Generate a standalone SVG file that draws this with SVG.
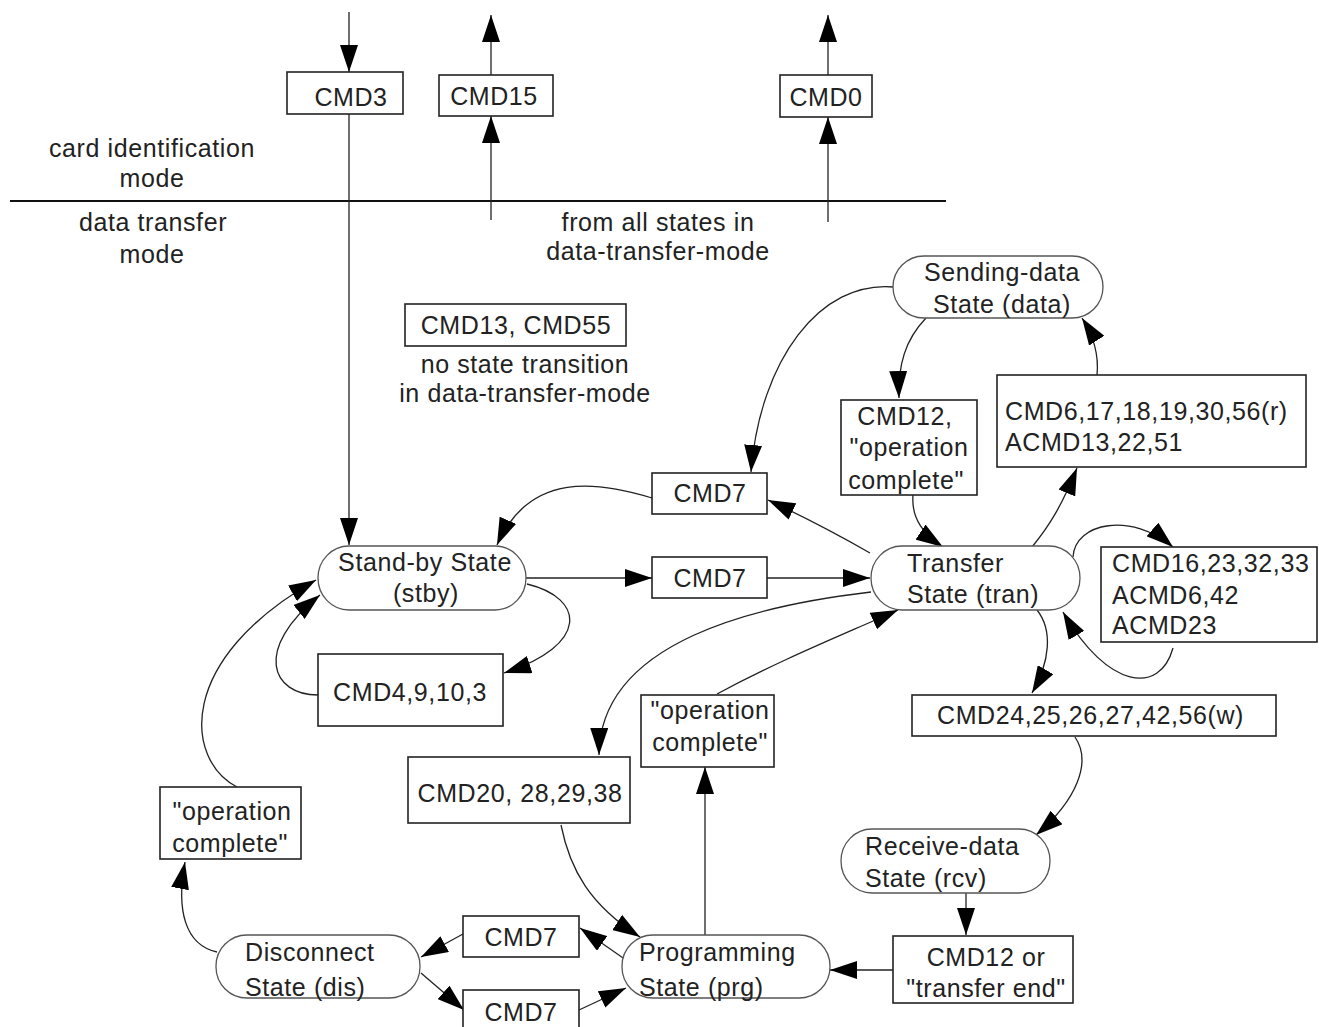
<svg xmlns="http://www.w3.org/2000/svg" width="1319" height="1027" viewBox="0 0 1319 1027">
<style>
text{font-family:"Liberation Sans",Arial,sans-serif;font-size:25px;fill:#222;letter-spacing:0.6px}
.c{text-anchor:middle}
.box{fill:#fff;stroke:#222;stroke-width:1.6}
.st{fill:#fff;stroke:#555;stroke-width:1.3}
.ln{fill:none;stroke:#222;stroke-width:1.3}
</style>
<defs>
<marker id="a" markerUnits="userSpaceOnUse" markerWidth="27" markerHeight="18" refX="27" refY="9" orient="auto">
<path d="M0,0 L27,9 L0,18 z" fill="#000"/>
</marker>
</defs>
<rect width="1319" height="1027" fill="#fff"/>

<g id="mode-divider">
<line x1="10" y1="201" x2="946" y2="201" stroke="#111" stroke-width="2"/>
<text class="c" x="152" y="157">card identification</text>
<text class="c" x="152" y="187">mode</text>
<text class="c" x="153" y="231">data transfer</text>
<text class="c" x="152" y="263">mode</text>
<text class="c" x="658" y="231">from all states in</text>
<text class="c" x="658" y="260">data-transfer-mode</text>
</g>

<g id="connectors">
<path class="ln" d="M349,12 L349,72" marker-end="url(#a)"/>
<path class="ln" d="M349,114 L349,545" marker-end="url(#a)"/>
<path class="ln" d="M491,75 L491,15" marker-end="url(#a)"/>
<path class="ln" d="M491,220 L491,116" marker-end="url(#a)"/>
<path class="ln" d="M828,75 L828,15" marker-end="url(#a)"/>
<path class="ln" d="M828,222 L828,117" marker-end="url(#a)"/>
<path class="ln" d="M652,498 C600,482 530,470 497,545" marker-end="url(#a)"/>
<path class="ln" d="M526,578 L652,578" marker-end="url(#a)"/>
<path class="ln" d="M767,578 L870,578" marker-end="url(#a)"/>
<path class="ln" d="M527,584 C585,598 590,645 504,673" marker-end="url(#a)"/>
<path class="ln" d="M318,695 C272,695 252,650 320,595" marker-end="url(#a)"/>
<path class="ln" d="M237,787 C185,760 175,660 316,580" marker-end="url(#a)"/>
<path class="ln" d="M894,287 C820,280 760,360 751,472" marker-end="url(#a)"/>
<path class="ln" d="M870,553 C830,530 800,515 768,500" marker-end="url(#a)"/>
<path class="ln" d="M926,318 C905,340 898,365 899,398" marker-end="url(#a)"/>
<path class="ln" d="M913,495 C911,520 925,535 943,547" marker-end="url(#a)"/>
<path class="ln" d="M1032,547 C1050,525 1062,505 1077,468" marker-end="url(#a)"/>
<path class="ln" d="M1097,375 C1099,355 1093,335 1082,318" marker-end="url(#a)"/>
<path class="ln" d="M1073,557 C1075,522 1132,512 1173,547" marker-end="url(#a)"/>
<path class="ln" d="M1173,648 C1160,695 1108,690 1063,612" marker-end="url(#a)"/>
<path class="ln" d="M1037,610 C1053,630 1050,662 1032,693" marker-end="url(#a)"/>
<path class="ln" d="M1075,737 C1092,762 1077,800 1036,835" marker-end="url(#a)"/>
<path class="ln" d="M966,893 L966,935" marker-end="url(#a)"/>
<path class="ln" d="M893,970 L830,970" marker-end="url(#a)"/>
<path class="ln" d="M871,592 C760,605 600,640 599,755" marker-end="url(#a)"/>
<path class="ln" d="M717,694 C780,660 840,636 898,610" marker-end="url(#a)"/>
<path class="ln" d="M705,935 L705,767" marker-end="url(#a)"/>
<path class="ln" d="M561,825 C570,870 590,905 640,937" marker-end="url(#a)"/>
<path class="ln" d="M626,960 L580,928" marker-end="url(#a)"/>
<path class="ln" d="M463,934 L421,957" marker-end="url(#a)"/>
<path class="ln" d="M421,973 L464,1010" marker-end="url(#a)"/>
<path class="ln" d="M579,1010 L626,988" marker-end="url(#a)"/>
<path class="ln" d="M217,952 C185,945 176,910 185,862" marker-end="url(#a)"/>
</g>

<g id="cmd3"><rect class="box" x="287" y="72" width="116" height="42"/><text class="c" x="351" y="106">CMD3</text></g>
<g id="cmd15"><rect class="box" x="439" y="75" width="114" height="41"/><text class="c" x="494" y="105">CMD15</text></g>
<g id="cmd0"><rect class="box" x="780" y="75" width="92" height="42"/><text class="c" x="826" y="106">CMD0</text></g>
<g id="cmd13"><rect class="box" x="405" y="304" width="221" height="42"/><text class="c" x="516" y="334">CMD13, CMD55</text>
<text class="c" x="525" y="373">no state transition</text><text class="c" x="525" y="402">in data-transfer-mode</text></g>

<g id="sending"><rect class="st" x="893" y="256" width="210" height="62" rx="31" ry="31"/>
<text class="c" x="1002" y="281">Sending-data</text><text class="c" x="1002" y="313">State (data)</text></g>
<g id="cmd12op"><rect class="box" x="841" y="400" width="136" height="95"/>
<text class="c" x="905" y="425">CMD12,</text><text class="c" x="909" y="456">"operation</text><text class="c" x="906" y="489">complete"</text></g>
<g id="cmd6"><rect class="box" x="997" y="375" width="309" height="92"/>
<text x="1005" y="420">CMD6,17,18,19,30,56(r)</text><text x="1005" y="451">ACMD13,22,51</text></g>

<g id="cmd7a"><rect class="box" x="652" y="473" width="115" height="41"/><text class="c" x="710" y="502">CMD7</text></g>
<g id="cmd7b"><rect class="box" x="652" y="557" width="115" height="41"/><text class="c" x="710" y="587">CMD7</text></g>

<g id="standby"><rect class="st" x="318" y="546" width="208" height="64" rx="31" ry="32"/>
<text class="c" x="425" y="571">Stand-by State</text><text class="c" x="426" y="602">(stby)</text></g>
<g id="transfer"><rect class="st" x="871" y="546" width="209" height="64" rx="31" ry="32"/>
<text x="907" y="572">Transfer</text><text x="907" y="603">State (tran)</text></g>
<g id="cmd16"><rect class="box" x="1101" y="547" width="216" height="95"/>
<text x="1112" y="572">CMD16,23,32,33</text><text x="1112" y="604">ACMD6,42</text><text x="1112" y="634">ACMD23</text></g>

<g id="cmd4"><rect class="box" x="318" y="654" width="185" height="72"/><text class="c" x="410" y="701">CMD4,9,10,3</text></g>
<g id="cmd24"><rect class="box" x="912" y="695" width="364" height="41"/><text x="937" y="724">CMD24,25,26,27,42,56(w)</text></g>
<g id="opc-mid"><rect class="box" x="641" y="695" width="133" height="72"/>
<text class="c" x="710" y="719">"operation</text><text class="c" x="710" y="751">complete"</text></g>
<g id="cmd20"><rect class="box" x="408" y="757" width="222" height="66"/><text class="c" x="520" y="802">CMD20, 28,29,38</text></g>
<g id="opc-left"><rect class="box" x="160" y="787" width="141" height="72"/>
<text class="c" x="232" y="820">"operation</text><text class="c" x="230" y="852">complete"</text></g>
<g id="receive"><rect class="st" x="841" y="829" width="209" height="64" rx="31" ry="32"/>
<text x="865" y="855">Receive-data</text><text x="865" y="887">State (rcv)</text></g>
<g id="cmd12or"><rect class="box" x="893" y="936" width="180" height="67"/>
<text class="c" x="986" y="966">CMD12 or</text><text class="c" x="986" y="997">"transfer end"</text></g>

<g id="disconnect"><rect class="st" x="216" y="935" width="204" height="63" rx="31" ry="31"/>
<text x="245" y="961">Disconnect</text><text x="245" y="996">State (dis)</text></g>
<g id="cmd7c"><rect class="box" x="463" y="916" width="116" height="41"/><text class="c" x="521" y="946">CMD7</text></g>
<g id="cmd7d"><rect class="box" x="463" y="990" width="116" height="40"/><text class="c" x="521" y="1021">CMD7</text></g>
<g id="programming"><rect class="st" x="622" y="935" width="208" height="63" rx="31" ry="31"/>
<text x="639" y="961">Programming</text><text x="639" y="996">State (prg)</text></g>
</svg>
